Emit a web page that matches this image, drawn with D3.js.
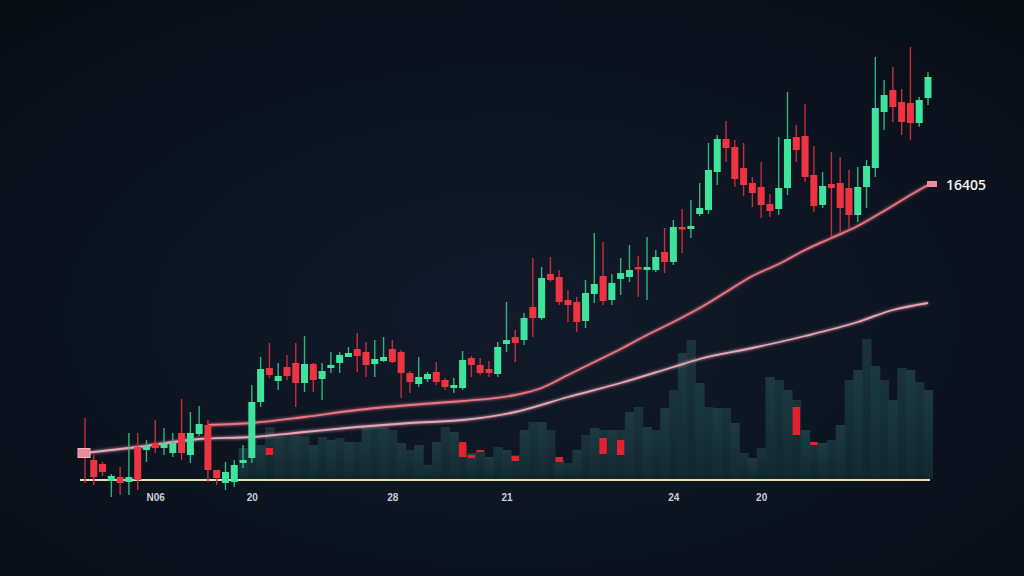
<!DOCTYPE html>
<html>
<head>
<meta charset="utf-8">
<script src="https://cdn.jsdelivr.net/npm/d3@7/dist/d3.min.js"></script>
<style>
  html, body { margin: 0; padding: 0; background: #0a0f18; }
  svg { display: block; }
</style>
</head>
<body>
<svg id="chart" width="1024" height="576"></svg>
<script>
// ---------------- DATA ----------------
const candleOpen  = [48,40,36,19,23,18,53,50,57,52,47,67,45,66,75,30,17,18,37,42,
  98,132,119,133,137,117,136,121,132,137,143,151,148,136,139,151,148,127,116,121,
  128,120,112,112,142,135,131,126,156,163,160,193,182,226,223,200,198,179,206,224,
  200,221,223,233,230,230,248,238,273,271,286,290,328,361,353,332,317,313,296,291,
  312,363,364,325,295,316,317,312,285,313,332,388,410,398,397,377,402];
const candleClose = [43,23,28,24,17,23,20,54,52,57,57,47,67,76,30,22,28,35,40,98,
  131,125,124,124,117,136,120,129,135,145,147,144,135,141,143,138,127,118,123,126,
  118,113,115,140,135,127,127,153,160,157,182,182,222,220,198,195,178,207,216,199,
  217,227,230,231,233,243,238,273,271,274,292,330,361,352,321,315,307,295,289,312,
  361,350,323,294,314,312,292,285,313,334,392,405,393,378,377,400,423];
const candleHigh  = [82,45,38,26,33,67,67,60,80,72,67,101,88,94,80,30,38,40,55,115,
  143,157,137,145,157,164,137,137,148,148,153,167,158,160,163,160,150,129,143,128,
  138,122,122,149,144,142,139,158,198,170,187,242,233,243,230,210,203,220,267,258,
  226,242,255,244,263,250,272,280,291,300,317,357,365,379,360,357,323,338,306,363,
  408,375,396,354,328,348,343,330,333,340,443,420,433,411,453,403,428];
const candleLow   = [17,15,24,3,5,5,10,38,47,45,43,40,37,64,18,15,10,13,32,37,
  93,122,110,120,93,108,108,100,127,127,143,128,123,123,138,137,102,107,113,118,
  115,110,107,110,123,125,123,123,148,138,155,163,180,218,195,178,168,172,197,195,
  195,205,218,203,200,228,227,235,247,262,284,286,315,338,313,304,293,282,283,285,
  305,338,318,288,292,263,267,272,278,292,323,370,378,365,360,373,395];

const volume = [0,0,0,0,0,0,0,0,0,0,0,0,0,0,0,0,0,0,30,38,
  33,51,41,41,42,42,33,41,38,40,36,36,50,51,51,48,35,28,33,13,
  36,51,46,33,25,28,21,31,28,23,48,56,56,48,18,15,28,43,50,48,
  48,48,66,71,51,48,70,88,125,138,95,71,70,70,55,25,20,30,101,98,
  88,78,48,35,35,38,53,98,108,139,112,98,78,110,108,96,88];

const redVolIdx    = [22,44,45,46,50,55,60,62,82,84];
const redVolTop    = [30,36,23,28,22,21,40,38,71,36];
const redVolBottom = [23,21,20,26,17,16,24,23,43,33];

const maUpperIdx = [15,20,26,32,38,44,50,53,56,59,62,65,68,71,74,77,80,83,86,89,92,95,97];
const maUpperVal = [75,77,83,90,95,99,105,112,125,138,151,165,178,192,208,224,236,250,262,274,289,305,315];
const maLowerIdx = [1,7,14,20,26,32,38,44,50,56,62,68,71,77,83,89,93,97];
const maLowerVal = [47,53,61,63,68,73,77,80,88,103,117,133,141,152,164,178,190,197];

const tickIdx    = [9,20,36,49,68,78];
const tickLabels = ["N06","20","28","21","24","20"];
const lastLabel  = "16405";

// ---------------- CHART ----------------
const W = 1024, H = 576;
const svg = d3.select("#chart");
const defs = svg.append("defs");

const bg = defs.append("radialGradient").attr("id","bg")
  .attr("cx","50%").attr("cy","55%").attr("r","75%");
bg.append("stop").attr("offset","0%").attr("stop-color","#121b2a");
bg.append("stop").attr("offset","60%").attr("stop-color","#0c1320");
bg.append("stop").attr("offset","100%").attr("stop-color","#070b12");
svg.append("rect").attr("width",W).attr("height",H).attr("fill","url(#bg)");

const vg = defs.append("linearGradient").attr("id","volg")
  .attr("x1",0).attr("y1",0).attr("x2",0).attr("y2",1);
vg.append("stop").attr("offset","0%").attr("stop-color","#1d3c42");
vg.append("stop").attr("offset","100%").attr("stop-color","#132a32");

const glow = defs.append("filter").attr("id","glow")
  .attr("x","-10%").attr("y","-10%").attr("width","120%").attr("height","120%");
glow.append("feGaussianBlur").attr("stdDeviation",1.6).attr("result","b");
const fm = glow.append("feMerge");
fm.append("feMergeNode").attr("in","b");
fm.append("feMergeNode").attr("in","SourceGraphic");

const idx = d3.range(1, candleOpen.length + 1);
const x = d3.scalePoint().domain(idx).range([85, 928]);
const step = x.step();
const y = d3.scaleLinear().domain([0, 500]).range([500, 0]);
const yv = d3.scaleLinear().domain([0, 478]).range([478, 0]);

// volume
const gVol = svg.append("g");
gVol.selectAll("rect.vol").data(idx.filter(i => volume[i-1] > 0)).join("rect")
  .attr("class","vol")
  .attr("x", i => x(i) - step/2)
  .attr("width", step + 0.6)
  .attr("y", i => yv(volume[i-1]))
  .attr("height", i => yv(0) - yv(volume[i-1]) + 1)
  .attr("fill","url(#volg)")
  .attr("opacity", i => i % 2 ? 0.95 : 0.78);

gVol.selectAll("rect.rv").data(redVolIdx).join("rect")
  .attr("class","rv")
  .attr("x", (d) => x(d) - step*0.42)
  .attr("width", step*0.84)
  .attr("y", (d,k) => yv(redVolTop[k]))
  .attr("height", (d,k) => yv(redVolBottom[k]) - yv(redVolTop[k]))
  .attr("fill","#e5222c");

// baseline
svg.append("line").attr("x1",80).attr("x2",930)
  .attr("y1", yv(-2)).attr("y2", yv(-2))
  .attr("stroke","#e9dcb0").attr("stroke-width",2);

// moving averages
const line = d3.line().curve(d3.curveMonotoneX);
const upPts = maUpperIdx.map((d,k) => [x(d), y(maUpperVal[k])]);
const loPts = maLowerIdx.map((d,k) => [x(d), y(maLowerVal[k])]);
svg.append("path").attr("d", line(loPts)).attr("fill","none")
  .attr("stroke","#eaa6b5").attr("stroke-width",1.8).attr("filter","url(#glow)");
svg.append("path").attr("d", line(upPts)).attr("fill","none")
  .attr("stroke","#ec7482").attr("stroke-width",1.8).attr("filter","url(#glow)");

// candles
const green = "#3ee39c", red = "#ee3440";
const gC = svg.append("g");
const cs = gC.selectAll("g.c").data(idx).join("g").attr("class","c");
cs.append("line")
  .attr("x1", i => x(i)).attr("x2", i => x(i))
  .attr("y1", i => y(candleHigh[i-1])).attr("y2", i => y(candleLow[i-1]))
  .attr("stroke", i => candleClose[i-1] >= candleOpen[i-1] ? "#2fb57c" : "#c42f3a")
  .attr("stroke-width",1.4);
cs.append("rect")
  .attr("x", i => x(i) - step*0.4)
  .attr("width", step*0.8)
  .attr("y", i => y(Math.max(candleOpen[i-1], candleClose[i-1])))
  .attr("height", i => Math.max(2.5, Math.abs(y(candleOpen[i-1]) - y(candleClose[i-1]))))
  .attr("fill", i => candleClose[i-1] >= candleOpen[i-1] ? green : red);

// markers
const p0 = loPts[0];
svg.append("rect").attr("x", p0[0]-7).attr("y", p0[1]-4.5).attr("width",12).attr("height",9)
  .attr("fill","#e88a98").attr("stroke","#f4b6c0").attr("stroke-width",1);
const pe = upPts[upPts.length-1];
svg.append("rect").attr("x", pe[0]-1).attr("y", pe[1]-4).attr("width",10).attr("height",6)
  .attr("fill","#f08a96");
svg.append("text").attr("x", pe[0]+18).attr("y", pe[1]+5)
  .attr("fill","#f2f2f2").attr("font-family","Open Sans, Liberation Sans, sans-serif")
  .attr("font-size",14).attr("font-weight",600).text(lastLabel);

// x axis labels
const ax = d3.axisBottom(x).tickValues(tickIdx)
  .tickFormat(d => tickLabels[tickIdx.indexOf(d)]).tickSize(0).tickPadding(0);
const gAx = svg.append("g").attr("transform","translate(0,494)").call(ax);
gAx.select(".domain").remove();
gAx.selectAll("text").attr("fill","#c9ced8").attr("font-size",10)
  .attr("font-weight","bold").attr("font-family","Liberation Sans, DejaVu Sans, sans-serif");
</script>
</body>
</html>
